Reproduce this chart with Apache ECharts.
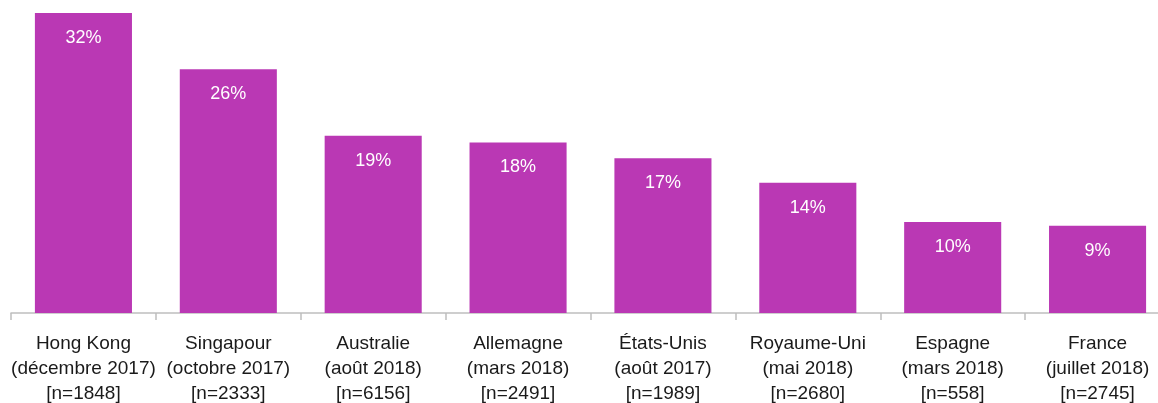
<!doctype html>
<html>
    <head>
        <meta charset="utf-8">
        <title>Bar chart</title>
        <style>
            html, body { margin: 0; padding: 0; background: #fff; }
            #main { width: 1158px; height: 403px; }
        </style>
    </head>
    <body>
        <div id="main"></div>
        <script src="https://cdn.jsdelivr.net/npm/echarts@6/dist/echarts.min.js"></script>
        <script>
            var countries = ['Hong Kong', 'Singapour', 'Australie', 'Allemagne', 'États-Unis', 'Royaume-Uni', 'Espagne', 'France'];
            var periods = ['(décembre 2017)', '(octobre 2017)', '(août 2018)', '(mars 2018)', '(août 2017)', '(mai 2018)', '(mars 2018)', '(juillet 2018)'];
            var samples = ['[n=1848]', '[n=2333]', '[n=6156]', '[n=2491]', '[n=1989]', '[n=2680]', '[n=558]', '[n=2745]'];
            var values = [32, 26, 18.9, 18.2, 16.5, 13.9, 9.7, 9.3];

            var categories = countries.map(function (c, i) {
                return c + '\n' + periods[i] + '\n' + samples[i];
            });

            var myChart = echarts.init(document.getElementById('main'));

            var option = {
                animation: false,
                grid: {
                    left: 11,
                    width: 1159,
                    top: 13,
                    height: 300,
                    containLabel: false,
                    outerBoundsMode: 'none'
                },
                xAxis: {
                    type: 'category',
                    data: categories,
                    axisLine: { lineStyle: { color: '#bfbfbf', width: 1.5 } },
                    axisTick: { show: true, length: 7, lineStyle: { color: '#bfbfbf', width: 1.5 } },
                    axisLabel: {
                        color: '#1a1a1a',
                        fontFamily: 'Liberation Sans, Arial, sans-serif',
                        fontSize: 19,
                        lineHeight: 25,
                        margin: 18,
                        interval: 0
                    }
                },
                yAxis: {
                    type: 'value',
                    min: 0,
                    max: 32,
                    show: false,
                    splitLine: { show: false }
                },
                series: [{
                    type: 'bar',
                    data: values,
                    barWidth: '67%',
                    itemStyle: { color: '#ba38b4' },
                    label: {
                        show: true,
                        position: 'insideTop',
                        distance: 16,
                        color: '#fff',
                        fontFamily: 'Liberation Sans, Arial, sans-serif',
                        fontSize: 18,
                        formatter: function (p) { return Math.round(p.value) + '%'; }
                    }
                }]
            };

            myChart.setOption(option);
        </script>
    </body>
</html>
